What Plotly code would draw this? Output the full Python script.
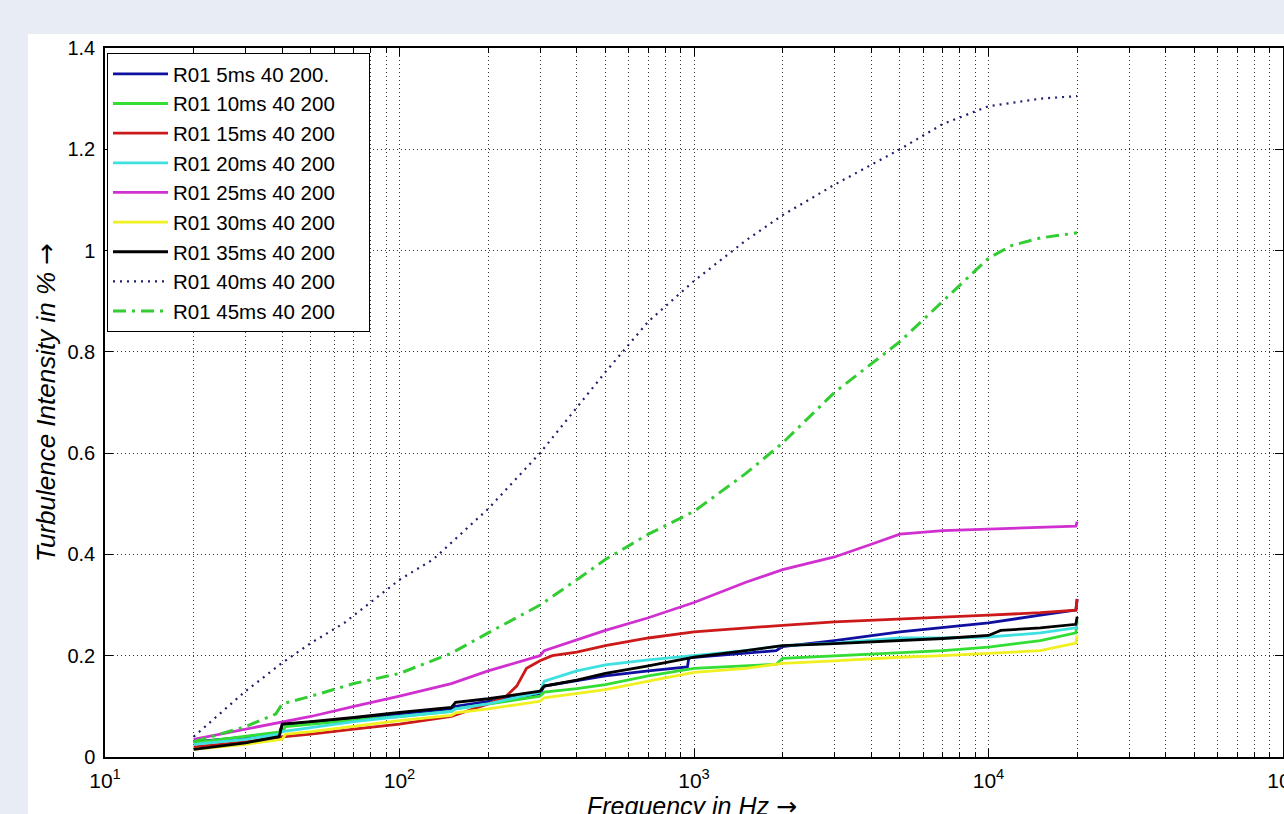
import plotly.graph_objects as go

# ---------------- data ----------------
f_5ms = [20, 30, 39, 40, 50, 70, 100, 150, 155, 200, 300, 310, 400, 500, 700, 950, 960, 1000, 1500, 1900, 2000, 3000, 5000, 7000, 10000, 15000, 19800, 20000]
v_5ms = [0.03, 0.04, 0.045, 0.065, 0.068, 0.075, 0.085, 0.095, 0.10, 0.11, 0.125, 0.14, 0.15, 0.16, 0.17, 0.178, 0.195, 0.197, 0.205, 0.21, 0.218, 0.23, 0.247, 0.256, 0.265, 0.28, 0.29, 0.312]

f_10ms = [20, 30, 40, 41, 50, 70, 100, 150, 155, 200, 300, 310, 400, 500, 700, 1000, 1500, 1900, 2000, 3000, 5000, 7000, 10000, 15000, 19800, 20000]
v_10ms = [0.028, 0.04, 0.05, 0.06, 0.065, 0.073, 0.08, 0.09, 0.095, 0.105, 0.12, 0.128, 0.135, 0.143, 0.16, 0.175, 0.18, 0.183, 0.195, 0.20, 0.207, 0.21, 0.217, 0.23, 0.245, 0.27]

f_15ms = [20, 30, 40, 50, 70, 100, 150, 200, 230, 250, 270, 300, 330, 400, 500, 700, 1000, 1500, 2000, 3000, 5000, 10000, 15000, 19800, 20000]
v_15ms = [0.02, 0.03, 0.04, 0.045, 0.055, 0.065, 0.08, 0.105, 0.12, 0.14, 0.175, 0.19, 0.20, 0.207, 0.22, 0.235, 0.247, 0.255, 0.26, 0.267, 0.272, 0.28, 0.285, 0.29, 0.312]

f_20ms = [20, 30, 39, 40, 50, 70, 100, 150, 155, 200, 300, 310, 400, 500, 700, 1000, 1500, 2000, 3000, 5000, 7000, 10000, 15000, 19800, 20000]
v_20ms = [0.025, 0.035, 0.045, 0.05, 0.058, 0.07, 0.08, 0.09, 0.095, 0.105, 0.128, 0.15, 0.17, 0.182, 0.192, 0.20, 0.21, 0.22, 0.225, 0.235, 0.235, 0.237, 0.245, 0.255, 0.265]

f_25ms = [20, 30, 40, 50, 70, 100, 150, 200, 300, 310, 500, 700, 1000, 1500, 2000, 3000, 4000, 5000, 7000, 10000, 15000, 19800, 20000]
v_25ms = [0.035, 0.055, 0.07, 0.08, 0.10, 0.12, 0.145, 0.17, 0.20, 0.21, 0.25, 0.275, 0.305, 0.345, 0.37, 0.395, 0.42, 0.44, 0.447, 0.45, 0.453, 0.456, 0.465]

f_30ms = [20, 30, 40, 41, 50, 70, 100, 150, 155, 200, 300, 310, 400, 500, 700, 1000, 1500, 2000, 3000, 5000, 7000, 10000, 15000, 19800, 20000]
v_30ms = [0.015, 0.025, 0.035, 0.045, 0.05, 0.06, 0.072, 0.082, 0.087, 0.095, 0.11, 0.117, 0.125, 0.133, 0.15, 0.167, 0.175, 0.185, 0.19, 0.197, 0.20, 0.205, 0.21, 0.225, 0.24]

f_35ms = [20, 30, 39, 40, 50, 70, 100, 150, 155, 200, 300, 310, 400, 500, 700, 1000, 1500, 2000, 3000, 5000, 7000, 10000, 11000, 15000, 19800, 20000]
v_35ms = [0.015, 0.028, 0.04, 0.065, 0.07, 0.078, 0.088, 0.098, 0.108, 0.115, 0.13, 0.14, 0.152, 0.165, 0.18, 0.197, 0.21, 0.22, 0.224, 0.23, 0.234, 0.24, 0.25, 0.255, 0.262, 0.277]

f_40ms = [20, 25, 30, 40, 50, 65, 100, 130, 200, 300, 500, 700, 1000, 1500, 2000, 3000, 5000, 7000, 10000, 15000, 20000]
v_40ms = [0.04, 0.09, 0.13, 0.186, 0.225, 0.265, 0.35, 0.39, 0.49, 0.60, 0.76, 0.86, 0.94, 1.02, 1.07, 1.13, 1.20, 1.25, 1.285, 1.30, 1.305]

f_45ms = [20, 30, 38, 40, 50, 70, 100, 150, 200, 300, 400, 500, 700, 1000, 1500, 2000, 3000, 5000, 7000, 10000, 12000, 15000, 20000]
v_45ms = [0.03, 0.06, 0.085, 0.105, 0.12, 0.145, 0.165, 0.205, 0.245, 0.30, 0.35, 0.39, 0.44, 0.485, 0.56, 0.62, 0.72, 0.82, 0.90, 0.985, 1.01, 1.025, 1.035]

names = ["R01 5ms 40 200.", "R01 10ms 40 200", "R01 15ms 40 200", "R01 20ms 40 200",
         "R01 25ms 40 200", "R01 30ms 40 200", "R01 35ms 40 200", "R01 40ms 40 200",
         "R01 45ms 40 200"]

x_ticks = [10, 100, 1000, 10000, 100000]
x_ticktext = ["10<sup>1</sup>", "10<sup>2</sup>", "10<sup>3</sup>", "10<sup>4</sup>", "10<sup>5</sup>"]
y_ticks = [0, 0.2, 0.4, 0.6, 0.8, 1.0, 1.2, 1.4]

series = [
    (f_5ms, v_5ms, "#1010a0", "solid", 2.8),
    (f_10ms, v_10ms, "#33dd33", "solid", 2.8),
    (f_15ms, v_15ms, "#cc1a1a", "solid", 2.8),
    (f_20ms, v_20ms, "#3ee0e0", "solid", 2.8),
    (f_25ms, v_25ms, "#d030d0", "solid", 2.8),
    (f_30ms, v_30ms, "#f0f020", "solid", 2.8),
    (f_35ms, v_35ms, "#000000", "solid", 2.8),
    (f_40ms, v_40ms, "#20206e", "2px,5px", 2.2),
    (f_45ms, v_45ms, "#33cc33", "13px,6px,3px,6px", 3),
]

FONT = "Liberation Sans, Arial, sans-serif"
GRID = "#333333"
ARROW = "<span style='font-family:DejaVu Sans'>→</span>"
PAD = "\u00a0" * 5

fig = go.Figure()
for i, (fx, fy, col, dash, w) in enumerate(series):
    fig.add_trace(go.Scatter(x=fx, y=fy, mode="lines", name=names[i] + PAD,
                             legendgroup="g%d" % i,
                             line=dict(color=col, dash=dash, width=w)))

W, H = 1284, 814
L, R, T, B = 105, 1, 48, 57
pw = W - L - R
ph = H - T - B

# white panel behind the axes
fig.add_shape(type="rect", xref="paper", yref="paper", layer="below",
              x0=(28 - L) / pw, x1=(W - L + 2) / pw,
              y0=-(B + 2) / ph, y1=(H - B - 34) / ph,
              fillcolor="white", line=dict(width=0))

fig.add_annotation(xref="paper", yref="paper", x=(46 - L) / pw, y=(H - B - 403) / ph,
                   text="<i>Turbulence Intensity in %</i> " + ARROW, textangle=-90, showarrow=False,
                   xanchor="center", yanchor="middle",
                   font=dict(family=FONT, size=26, color="black"))
fig.add_annotation(xref="paper", yref="paper", x=(692 - L) / pw, y=-(807 - (H - B)) / ph,
                   text="<i>Frequency in Hz</i> " + ARROW, showarrow=False,
                   xanchor="center", yanchor="middle",
                   font=dict(family=FONT, size=25, color="black"))

fig.update_layout(
    width=W, height=H,
    margin=dict(l=L, r=R, t=T, b=B, pad=0, autoexpand=False),
    paper_bgcolor="#e7ecf5",
    plot_bgcolor="white",
    font=dict(family=FONT, size=20, color="black"),
    showlegend=True,
    legend=dict(x=2 / pw, y=1 - 5 / ph, xanchor="left", yanchor="top",
                bgcolor="white", bordercolor="black", borderwidth=1,
                font=dict(family=FONT, size=20.5, color="black"),
                tracegroupgap=0, itemwidth=55),
    xaxis=dict(type="log", range=[1, 5], tickvals=x_ticks, ticktext=x_ticktext,
               automargin=False,
               ticklabeloverflow="allow", ticklabelstandoff=4,
               ticks="inside", ticklen=8, tickcolor="black", tickwidth=1,
               showline=True, linecolor="black", linewidth=1.5, mirror="ticks",
               showgrid=True, gridcolor=GRID, griddash="1px,3px", gridwidth=1,
               zeroline=False,
               tickfont=dict(family=FONT, size=21),
               minor=dict(dtick="D1", ticks="inside", ticklen=5, tickcolor="black",
                          showgrid=True, gridcolor=GRID, griddash="1px,3px", gridwidth=1)),
    yaxis=dict(range=[0, 1.4], tickvals=y_ticks, automargin=False,
               ticks="inside", ticklen=8, tickcolor="black", tickwidth=1,
               showline=True, linecolor="black", linewidth=1.5, mirror="ticks",
               showgrid=True, gridcolor=GRID, griddash="1px,3px", gridwidth=1,
               zeroline=False, ticklabelstandoff=4,
               tickfont=dict(family=FONT, size=20)),
)

fig.write_html("out.html")
